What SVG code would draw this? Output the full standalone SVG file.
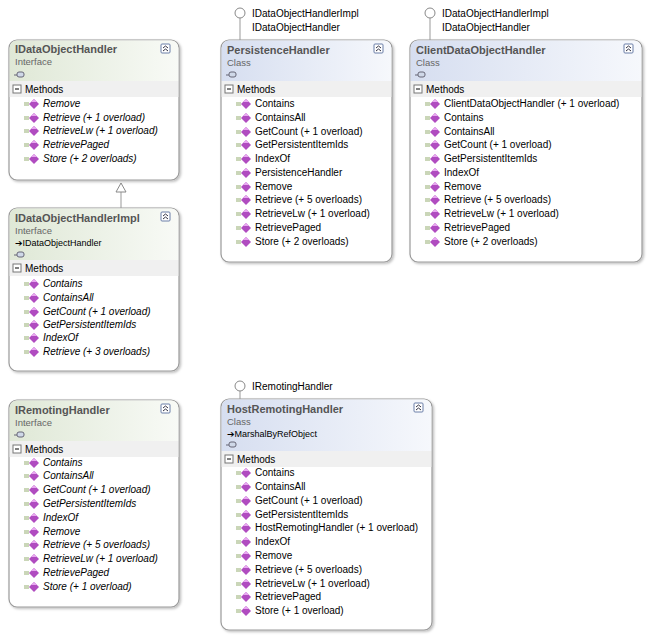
<svg xmlns="http://www.w3.org/2000/svg" xmlns:xlink="http://www.w3.org/1999/xlink" width="650" height="638" viewBox="0 0 650 638">
<style>
text{font-family:"Liberation Sans","DejaVu Sans",sans-serif;font-size:10px;fill:#000}
.t{font-weight:bold;font-size:11px;fill:#555}
.k{fill:#666;font-size:9.5px}
.i{font-style:italic}
.box{fill:#fff;stroke:#9a9a9a;stroke-width:1.2}
.hl{fill:#f0f0f0}
.ln{stroke:#999;stroke-width:1;fill:none}
</style>
<defs>
<linearGradient id="gi" x1="0" y1="0" x2="1" y2="0"><stop offset="0" stop-color="#dfe8d6"/><stop offset="1" stop-color="#f8faf6"/></linearGradient>
<linearGradient id="gc" x1="0" y1="0" x2="1" y2="0"><stop offset="0" stop-color="#d6def0"/><stop offset="1" stop-color="#f6f8fc"/></linearGradient>
<filter id="sh"><feDropShadow dx="1.5" dy="1.5" stdDeviation="1" flood-color="#000" flood-opacity="0.25"/></filter>
<g id="m"><line x1="0" y1="0" x2="5" y2="0" stroke="#b8c8a0" stroke-width="1.5"/><line x1="0" y1="2" x2="5" y2="2" stroke="#b8c8a0" stroke-width="1.5"/><path d="M5,1 l5,-5 l5,5 l-5,5z" fill="#b04cc0"/><path d="M7,-1 l3,-3 l3,3z" fill="#e8a8f0"/></g>
<g id="btn"><rect x="0" y="0" width="9" height="9" rx="1" fill="#fff" stroke="#6b7fa8"/><path d="M2,4 l2.5,-2 l2.5,2 M2,7 l2.5,-2 l2.5,2" stroke="#334" fill="none"/></g>
<g id="mn"><rect x="0" y="0" width="8" height="8" fill="#fff" stroke="#777"/><line x1="2" y1="4" x2="6" y2="4" stroke="#000"/></g>
<g id="ic"><rect x="2" y="-3" width="7" height="5" rx="2" fill="#cfd8e8" stroke="#667"/><line x1="-1" y1="0" x2="2" y2="0" stroke="#667"/></g>
</defs>

<g id="connectors">
<line class="ln" x1="121" y1="192" x2="121" y2="208"/>
<path d="M116,192 l5,-9 l5,9z" fill="#fff" stroke="#888"/>
<line class="ln" x1="240" y1="18" x2="240" y2="40"/><circle cx="240" cy="13" r="5" fill="#fff" stroke="#888"/>
<line class="ln" x1="430" y1="18" x2="430" y2="40"/><circle cx="430" cy="13" r="5" fill="#fff" stroke="#888"/>
<line class="ln" x1="240" y1="391" x2="240" y2="399"/><circle cx="240" cy="386" r="5" fill="#fff" stroke="#888"/>
<text x="252" y="17">IDataObjectHandlerImpl</text><text x="252" y="31">IDataObjectHandler</text>
<text x="442" y="17">IDataObjectHandlerImpl</text><text x="442" y="31">IDataObjectHandler</text>
<text x="252" y="390">IRemotingHandler</text>
</g>

<g id="IDataObjectHandler" transform="translate(9,40)">
<rect class="box" width="170" height="140" rx="8" filter="url(#sh)"/>
<path d="M0.6,8 a7.4,7.4 0 0 1 7.4,-7.4 h154 a7.4,7.4 0 0 1 7.4,7.4 v33 h-168.8z" fill="url(#gi)"/>
<rect class="hl" x="0.6" y="41" width="168.8" height="16"/>
<text class="t" x="6" y="13">IDataObjectHandler</text><text class="k" x="6" y="25">Interface</text><use href="#ic" x="6" y="35"/>
<use href="#btn" x="152" y="4"/><use href="#mn" x="4" y="45"/><text x="16" y="53">Methods</text>
<g class="i"><use href="#m" x="15" y="63"/><text x="34" y="67">Remove</text>
<use href="#m" x="15" y="77"/><text x="34" y="81">Retrieve (+ 1 overload)</text>
<use href="#m" x="15" y="90"/><text x="34" y="94">RetrieveLw (+ 1 overload)</text>
<use href="#m" x="15" y="104"/><text x="34" y="108">RetrievePaged</text>
<use href="#m" x="15" y="118"/><text x="34" y="122">Store (+ 2 overloads)</text></g>
</g>

<g id="IDataObjectHandlerImpl" transform="translate(9,208)">
<rect class="box" width="170" height="163" rx="8" filter="url(#sh)"/>
<path d="M0.6,8 a7.4,7.4 0 0 1 7.4,-7.4 h154 a7.4,7.4 0 0 1 7.4,7.4 v44 h-168.8z" fill="url(#gi)"/>
<rect class="hl" x="0.6" y="52" width="168.8" height="16"/>
<text class="t" x="6" y="14">IDataObjectHandlerImpl</text><text class="k" x="6" y="26">Interface</text><text x="6" y="38" style="font-size:9px">➔IDataObjectHandler</text><use href="#ic" x="6" y="47"/>
<use href="#btn" x="152" y="4"/><use href="#mn" x="4" y="56"/><text x="16" y="64">Methods</text>
<g class="i"><use href="#m" x="15" y="75"/><text x="34" y="79">Contains</text>
<use href="#m" x="15" y="89"/><text x="34" y="93">ContainsAll</text>
<use href="#m" x="15" y="103"/><text x="34" y="107">GetCount (+ 1 overload)</text>
<use href="#m" x="15" y="116"/><text x="34" y="120">GetPersistentItemIds</text>
<use href="#m" x="15" y="129"/><text x="34" y="133">IndexOf</text>
<use href="#m" x="15" y="143"/><text x="34" y="147">Retrieve (+ 3 overloads)</text></g>
</g>

<g id="IRemotingHandler" transform="translate(9,400)">
<rect class="box" width="170" height="207" rx="8" filter="url(#sh)"/>
<path d="M0.6,8 a7.4,7.4 0 0 1 7.4,-7.4 h154 a7.4,7.4 0 0 1 7.4,7.4 v33 h-168.8z" fill="url(#gi)"/>
<rect class="hl" x="0.6" y="41" width="168.8" height="16"/>
<text class="t" x="6" y="14">IRemotingHandler</text><text class="k" x="6" y="26">Interface</text><use href="#ic" x="6" y="35"/>
<use href="#btn" x="152" y="4"/><use href="#mn" x="4" y="45"/><text x="16" y="53">Methods</text>
<g class="i"><use href="#m" x="15" y="62"/><text x="34" y="66">Contains</text>
<use href="#m" x="15" y="75"/><text x="34" y="79">ContainsAll</text>
<use href="#m" x="15" y="89"/><text x="34" y="93">GetCount (+ 1 overload)</text>
<use href="#m" x="15" y="103"/><text x="34" y="107">GetPersistentItemIds</text>
<use href="#m" x="15" y="117"/><text x="34" y="121">IndexOf</text>
<use href="#m" x="15" y="131"/><text x="34" y="135">Remove</text>
<use href="#m" x="15" y="144"/><text x="34" y="148">Retrieve (+ 5 overloads)</text>
<use href="#m" x="15" y="158"/><text x="34" y="162">RetrieveLw (+ 1 overload)</text>
<use href="#m" x="15" y="172"/><text x="34" y="176">RetrievePaged</text>
<use href="#m" x="15" y="186"/><text x="34" y="190">Store (+ 1 overload)</text></g>
</g>

<g id="PersistenceHandler" transform="translate(221,40)">
<rect class="box" width="171" height="222" rx="8" filter="url(#sh)"/>
<path d="M0.6,8 a7.4,7.4 0 0 1 7.4,-7.4 h155 a7.4,7.4 0 0 1 7.4,7.4 v33 h-169.8z" fill="url(#gc)"/>
<rect class="hl" x="0.6" y="41" width="169.8" height="16"/>
<text class="t" x="6" y="14">PersistenceHandler</text><text class="k" x="6" y="26">Class</text><use href="#ic" x="6" y="35"/>
<use href="#btn" x="153" y="4"/><use href="#mn" x="4" y="45"/><text x="16" y="53">Methods</text>
<use href="#m" x="15" y="63"/><text x="34" y="67">Contains</text>
<use href="#m" x="15" y="77"/><text x="34" y="81">ContainsAll</text>
<use href="#m" x="15" y="91"/><text x="34" y="95">GetCount (+ 1 overload)</text>
<use href="#m" x="15" y="104"/><text x="34" y="108">GetPersistentItemIds</text>
<use href="#m" x="15" y="118"/><text x="34" y="122">IndexOf</text>
<use href="#m" x="15" y="132"/><text x="34" y="136">PersistenceHandler</text>
<use href="#m" x="15" y="146"/><text x="34" y="150">Remove</text>
<use href="#m" x="15" y="159"/><text x="34" y="163">Retrieve (+ 5 overloads)</text>
<use href="#m" x="15" y="173"/><text x="34" y="177">RetrieveLw (+ 1 overload)</text>
<use href="#m" x="15" y="187"/><text x="34" y="191">RetrievePaged</text>
<use href="#m" x="15" y="201"/><text x="34" y="205">Store (+ 2 overloads)</text>
</g>

<g id="ClientDataObjectHandler" transform="translate(410,40)">
<rect class="box" width="232" height="222" rx="8" filter="url(#sh)"/>
<path d="M0.6,8 a7.4,7.4 0 0 1 7.4,-7.4 h216 a7.4,7.4 0 0 1 7.4,7.4 v33 h-230.8z" fill="url(#gc)"/>
<rect class="hl" x="0.6" y="41" width="230.8" height="16"/>
<text class="t" x="6" y="14">ClientDataObjectHandler</text><text class="k" x="6" y="26">Class</text><use href="#ic" x="6" y="35"/>
<use href="#btn" x="214" y="4"/><use href="#mn" x="4" y="45"/><text x="16" y="53">Methods</text>
<use href="#m" x="15" y="63"/><text x="34" y="67">ClientDataObjectHandler (+ 1 overload)</text>
<use href="#m" x="15" y="77"/><text x="34" y="81">Contains</text>
<use href="#m" x="15" y="91"/><text x="34" y="95">ContainsAll</text>
<use href="#m" x="15" y="104"/><text x="34" y="108">GetCount (+ 1 overload)</text>
<use href="#m" x="15" y="118"/><text x="34" y="122">GetPersistentItemIds</text>
<use href="#m" x="15" y="132"/><text x="34" y="136">IndexOf</text>
<use href="#m" x="15" y="146"/><text x="34" y="150">Remove</text>
<use href="#m" x="15" y="159"/><text x="34" y="163">Retrieve (+ 5 overloads)</text>
<use href="#m" x="15" y="173"/><text x="34" y="177">RetrieveLw (+ 1 overload)</text>
<use href="#m" x="15" y="187"/><text x="34" y="191">RetrievePaged</text>
<use href="#m" x="15" y="201"/><text x="34" y="205">Store (+ 2 overloads)</text>
</g>

<g id="HostRemotingHandler" transform="translate(221,399)">
<rect class="box" width="211" height="231" rx="8" filter="url(#sh)"/>
<path d="M0.6,8 a7.4,7.4 0 0 1 7.4,-7.4 h195 a7.4,7.4 0 0 1 7.4,7.4 v44 h-209.8z" fill="url(#gc)"/>
<rect class="hl" x="0.6" y="52" width="209.8" height="16"/>
<text class="t" x="6" y="14">HostRemotingHandler</text><text class="k" x="6" y="26">Class</text><text x="6" y="38" style="font-size:9px">➔MarshalByRefObject</text><use href="#ic" x="6" y="46"/>
<use href="#btn" x="193" y="4"/><use href="#mn" x="4" y="56"/><text x="16" y="64">Methods</text>
<use href="#m" x="15" y="73"/><text x="34" y="77">Contains</text>
<use href="#m" x="15" y="87"/><text x="34" y="91">ContainsAll</text>
<use href="#m" x="15" y="101"/><text x="34" y="105">GetCount (+ 1 overload)</text>
<use href="#m" x="15" y="115"/><text x="34" y="119">GetPersistentItemIds</text>
<use href="#m" x="15" y="128"/><text x="34" y="132">HostRemotingHandler (+ 1 overload)</text>
<use href="#m" x="15" y="142"/><text x="34" y="146">IndexOf</text>
<use href="#m" x="15" y="156"/><text x="34" y="160">Remove</text>
<use href="#m" x="15" y="170"/><text x="34" y="174">Retrieve (+ 5 overloads)</text>
<use href="#m" x="15" y="184"/><text x="34" y="188">RetrieveLw (+ 1 overload)</text>
<use href="#m" x="15" y="197"/><text x="34" y="201">RetrievePaged</text>
<use href="#m" x="15" y="211"/><text x="34" y="215">Store (+ 1 overload)</text>
</g>
</svg>
